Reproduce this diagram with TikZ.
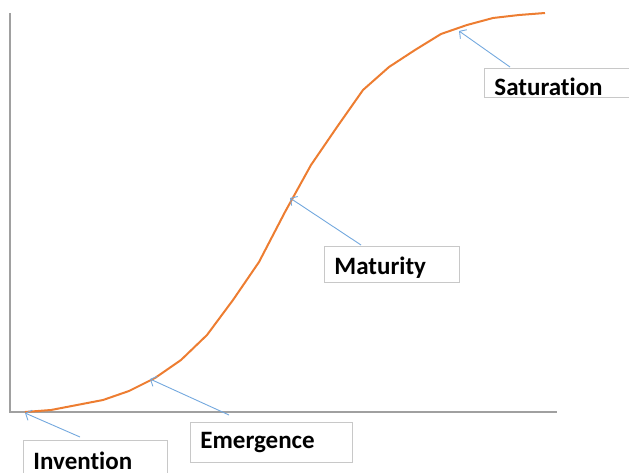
\documentclass[tikz,border=0pt]{standalone}
\usepackage{fontspec}
\setmainfont{Carlito}[Ligatures=NoCommon]
\usepackage{xcolor}
\usetikzlibrary{arrows.meta}
\definecolor{curveorange}{RGB}{237,125,49}
\definecolor{pointerblue}{RGB}{115,168,222}
\definecolor{axisgray}{RGB}{160,160,160}
\definecolor{boxgray}{RGB}{200,200,200}
\def\stagefont{\fontsize{25}{29}\selectfont\bfseries}
\def\scurve{(25,412) -- (51,410) -- (77,405) -- (103,400) -- (129,391) -- (155,378)
    -- (181,360) -- (207,335) -- (233,300) -- (259,262) -- (285,212) -- (311,165)
    -- (337,127) -- (363,90) -- (389,67) -- (415,50) -- (441,34) -- (467,25)
    -- (493,18) -- (519,15) -- (545,13)}
\tikzset{
    axis/.style={draw=axisgray, line width=1.2pt},
    growth/.style={draw=curveorange, line width=2pt, line join=round},
    stagebox/.style={draw=boxgray, line width=0.9pt, font=\stagefont, anchor=base west,
        inner xsep=10pt, inner ysep=0pt, align=left},
    pointer/.style={draw=pointerblue, line width=0.9pt,
        -{Straight Barb[length=5pt,width=11pt,line width=0.9pt]}},
}

\begin{document}
\begin{tikzpicture}[x=1pt,y=-1pt]
    \useasboundingbox (0,0) rectangle (629,473);
    \clip (0,0) rectangle (629,473);
    \draw[axis] (10,13) -- (10,412) -- (557,412);
    \draw[growth] \scurve;

    % stage labels
    \node[stagebox, text width=124pt, text height=29pt, text depth=12pt] (invention) at (23,469) {Invention};
    \node[stagebox, text width=142pt, text height=26pt, text depth=14pt] (emergence) at (190,448) {Emergence};
    \node[stagebox, text width=115pt, text height=28pt, text depth=8pt] (maturity) at (324,274) {Maturity};
    \node[stagebox, text width=160pt, text height=28pt, text depth=1.5pt] (saturation) at (484,96) {Saturation};

    % points on the curve
    \coordinate (inv-pt) at (25,413);
    \coordinate (eme-pt) at (150,379);
    \coordinate (mat-pt) at (290,198);
    \coordinate (sat-pt) at (459,31);
    \coordinate (inv-tail) at (80,437);
    \coordinate (eme-tail) at (229,415);
    \coordinate (mat-tail) at (361,245);
    \coordinate (sat-tail) at (510,67);

    \draw[pointer] (inv-tail) -- (inv-pt);
    \draw[pointer] (eme-tail) -- (eme-pt);
    \draw[pointer] (mat-tail) -- (mat-pt);
    \draw[pointer] (sat-tail) -- (sat-pt);
\end{tikzpicture}
\end{document}
